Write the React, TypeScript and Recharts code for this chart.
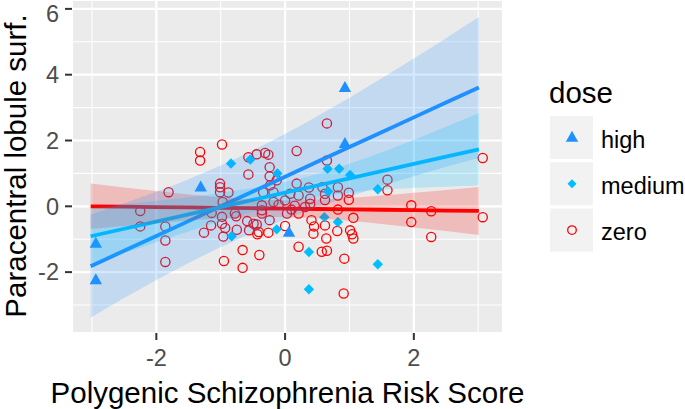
import React from 'react';
import { ComposedChart, Scatter, Line, Area, XAxis, YAxis, CartesianGrid, ReferenceLine } from 'recharts';

// ---- observed points ----
const zeroX = [-2.25, -2.25, -1.81, -1.86, -1.86, -1.86, -1.32, -1.32, -0.98, -1.01, -1.01, -1.01, -0.88, -0.57, -0.44, -0.31, -0.26, -0.57, -0.24, -0.24, -0.23, -0.34, -0.18, -0.13, 0.0, -0.18, -0.36, -0.97, -0.78, -0.36, -1.14, -0.98, -1.15, -0.76, -0.59, -0.36, -0.24, -0.44, -0.98, -0.93, -0.75, -1.26, -0.96, -0.56, -0.43, -0.26, -0.66, -0.40, -0.95, -0.66, 0.0, 0.18, 0.65, 0.65, 0.18, 0.37, 0.58, 0.82, 0.99, 0.99, 0.82, 0.62, 0.39, 0.21, 0.08, 1.59, 1.59, 0.82, 1.06, 0.31, 0.21, 0.21, 0.57, 0.65, 0.92, 0.91, 0.64, 0.81, 1.01, 1.06, 1.04, 0.44, 0.45, 0.62, 0.41, 0.39, 0.03, -0.41, -0.49, 1.96, 1.96, 2.27, 2.27, 3.07, 3.07, 0.62, 0.1, -0.1, 0.15];
const zeroY = [-0.14, -0.61, 0.43, -0.61, -1.04, -1.69, 1.65, 1.39, 1.88, 0.69, 0.58, 0.43, 0.42, 1.49, 1.58, 1.62, 1.57, 0.97, 1.19, 0.91, 0.64, 0.43, 0.43, 0.79, 0.18, 0.13, 0.03, 0.13, -0.22, -0.12, -0.2, -0.32, -0.58, -0.3, -0.45, -0.22, -0.42, -0.55, -0.53, -0.66, -0.71, -0.8, -0.92, -0.73, -0.85, -0.8, -1.33, -1.48, -1.66, -1.87, -0.6, 1.68, 2.52, 1.39, 0.69, 0.57, 0.58, 0.58, 0.41, 0.2, 0.33, 0.19, 0.23, 0.33, 0.38, 0.81, 0.49, -0.1, -0.35, -0.02, -0.22, -1.23, -1.38, -1.35, -1.59, -2.65, -0.98, -0.75, -0.73, -0.98, -0.85, -0.83, -0.61, -0.58, -0.42, 0.08, -0.22, -0.78, -0.53, 0.03, -0.48, -0.15, -0.93, 1.47, -0.33, 0.38, -0.1, 0.05, 0.02];
const mediumX = [-0.84, -0.54, 0.66, 0.84, 1.01, 1.44, 0.61, 0.82, 0.37, 1.44, 0.37, -0.83, -0.13, 0.67, -0.12];
const mediumY = [1.3, 1.42, 1.14, 1.14, 0.95, 0.52, -0.33, -0.48, -1.39, -1.76, -2.52, -0.91, -0.7, 0.45, 1.0];
const highX = [-2.94, -2.94, -1.31, 0.93, 0.93, 0.06];
const highY = [-1.13, -2.24, 0.58, 3.6, 1.9, -0.8];

// ---- fitted lines and confidence bands, read at these x positions ----
const fitX = [-3.02, -2.5, -2, -1.5, -1, -0.5, 0, 0.5, 1, 1.5, 2, 2.5, 3.01];
const highFit = [-1.82, -1.351, -0.9, -0.45, 0.0, 0.451, 0.901, 1.352, 1.802, 2.253, 2.703, 3.154, 3.613];
const highLo = [-3.39, -2.79, -2.24, -1.72, -1.24, -0.8, -0.4, -0.03, 0.3, 0.62, 0.91, 1.2, 1.47];
const highHi = [-0.25, 0.09, 0.44, 0.82, 1.24, 1.7, 2.2, 2.74, 3.3, 3.89, 4.49, 5.11, 5.75];
const mediumFit = [-0.91, -0.682, -0.463, -0.243, -0.024, 0.195, 0.413, 0.632, 0.851, 1.07, 1.289, 1.508, 1.73];
const mediumLo = [-1.76, -1.42, -1.09, -0.763, -0.454, -0.165, 0.083, 0.282, 0.411, 0.5, 0.559, 0.598, 0.63];
const mediumHi = [-0.06, 0.058, 0.167, 0.277, 0.406, 0.555, 0.743, 0.982, 1.291, 1.64, 2.019, 2.418, 2.83];
const zeroFit = [0.0, -0.012, -0.024, -0.035, -0.047, -0.058, -0.07, -0.082, -0.093, -0.105, -0.117, -0.128, -0.14];
const zeroLo = [-0.69, -0.597, -0.511, -0.432, -0.366, -0.323, -0.321, -0.365, -0.441, -0.537, -0.643, -0.753, -0.869];
const zeroHi = [0.69, 0.573, 0.463, 0.362, 0.272, 0.207, 0.181, 0.201, 0.255, 0.327, 0.409, 0.497, 0.589];

const xTicks = [-2, 0, 2];
const yTicks = [-2, 0, 2, 4, 6];
const xMinor = [-3, -1, 1, 3];
const yMinor = [-3, -1, 1, 3, 5];
const legendLabels = ['high', 'medium', 'zero'];

const HIGH = '#1E90FF';
const MED = '#00BFFF';
const ZERO = '#FF0000';
const FONT = '"Liberation Sans", Arial, sans-serif';

const fitData = fitX.map((x, i) => ({
  x,
  highFit: highFit[i],
  highBand: [highLo[i], highHi[i]],
  mediumFit: mediumFit[i],
  mediumBand: [mediumLo[i], mediumHi[i]],
  zeroFit: zeroFit[i],
  zeroBand: [zeroLo[i], zeroHi[i]],
}));
const zeroPts = zeroX.map((x, i) => ({ x, y: zeroY[i] }));
const mediumPts = mediumX.map((x, i) => ({ x, y: mediumY[i] }));
const highPts = highX.map((x, i) => ({ x, y: highY[i] }));

const CircleShape = (p: any) => (
  <circle cx={p.cx} cy={p.cy} r={4.6} fill="none" stroke={ZERO} strokeWidth={1.3} />
);
const DiamondShape = (p: any) => (
  <polygon points={`${p.cx},${p.cy - 5.2} ${p.cx + 5.2},${p.cy} ${p.cx},${p.cy + 5.2} ${p.cx - 5.2},${p.cy}`} fill={MED} />
);
const TriangleShape = (p: any) => (
  <polygon points={`${p.cx},${p.cy - 6.8} ${p.cx + 6.2},${p.cy + 4.2} ${p.cx - 6.2},${p.cy + 4.2}`} fill={HIGH} />
);

export default function App() {
  const tickStyle = { fill: '#4D4D4D', fontSize: 23.5, fontFamily: FONT };
  return (
    <div style={{ position: 'absolute', left: 0, top: 0, width: 685, height: 409, background: '#fff' }}>
      <ComposedChart
        width={685}
        height={409}
        data={fitData}
        margin={{ top: 0, right: 182, bottom: 0, left: 0 }}
      >
        <CartesianGrid fill="#EBEBEB" stroke="#FFFFFF" strokeWidth={2.2} />
        {xMinor.map((v) => (
          <ReferenceLine key={'xm' + v} x={v} stroke="#FFFFFF" strokeWidth={1.1} zIndex={-50} />
        ))}
        {yMinor.map((v) => (
          <ReferenceLine key={'ym' + v} y={v} stroke="#FFFFFF" strokeWidth={1.1} zIndex={-50} />
        ))}
        <XAxis
          type="number"
          dataKey="x"
          domain={[-3.31, 3.385]}
          ticks={xTicks}
          allowDataOverflow
          axisLine={false}
          tickLine={{ stroke: '#333333', strokeWidth: 2 }}
          tickSize={7}
          tickMargin={9}
          height={76}
          tick={tickStyle}
        />
        <YAxis
          type="number"
          domain={[-3.85, 6.27]}
          ticks={yTicks}
          allowDataOverflow
          axisLine={false}
          tickLine={{ stroke: '#333333', strokeWidth: 2 }}
          tickSize={7}
          tickMargin={6}
          width={72}
          tick={tickStyle}
        />
        <Scatter data={zeroPts} dataKey="y" shape={CircleShape} isAnimationActive={false} zIndex={10} />
        <Scatter data={mediumPts} dataKey="y" shape={DiamondShape} isAnimationActive={false} zIndex={10} />
        <Scatter data={highPts} dataKey="y" shape={TriangleShape} isAnimationActive={false} zIndex={10} />
        <Line dataKey="zeroFit" stroke={ZERO} strokeWidth={3.8} dot={false} type="linear" isAnimationActive={false} zIndex={20} />
        <Line dataKey="highFit" stroke={HIGH} strokeWidth={3.8} dot={false} type="linear" isAnimationActive={false} zIndex={20} />
        <Line dataKey="mediumFit" stroke={MED} strokeWidth={3.8} dot={false} type="linear" isAnimationActive={false} zIndex={20} />
        <Area dataKey="zeroBand" type="monotone" fill={ZERO} fillOpacity={0.2} stroke="none" isAnimationActive={false} zIndex={30} />
        <Area dataKey="highBand" type="monotone" fill={HIGH} fillOpacity={0.2} stroke="none" isAnimationActive={false} zIndex={30} />
        <Area dataKey="mediumBand" type="monotone" fill={MED} fillOpacity={0.2} stroke="none" isAnimationActive={false} zIndex={30} />
      </ComposedChart>
      <svg width={685} height={409} style={{ position: 'absolute', left: 0, top: 0, pointerEvents: 'none' }}>
        <text x={287.5} y={403} textAnchor="middle" fontSize={29.5} fontFamily={FONT} fill="#000">
          Polygenic Schizophrenia Risk Score
        </text>
        <text x={26} y={166} textAnchor="middle" fontSize={29.5} fontFamily={FONT} fill="#000" transform="rotate(-90 26 166)">
          Paracentral lobule surf.
        </text>
        <text x={549} y={103} fontSize={29.5} fontFamily={FONT} fill="#000">dose</text>
        {legendLabels.map((lab, i) => {
          const top = 116 + i * 46.3;
          const cx = 572;
          const cy = top + 21.5;
          return (
            <g key={lab}>
              <rect x={550} y={top} width={43} height={43} fill="#F2F2F2" />
              {i === 0 && (
                <polygon points={`${cx},${cy - 6.8} ${cx + 6.2},${cy + 4.2} ${cx - 6.2},${cy + 4.2}`} fill={HIGH} />
              )}
              {i === 1 && (
                <polygon points={`${cx},${cy - 4.5} ${cx + 4.5},${cy} ${cx},${cy + 4.5} ${cx - 4.5},${cy}`} fill={MED} />
              )}
              {i === 2 && <circle cx={cx} cy={cy} r={4.3} fill="none" stroke={ZERO} strokeWidth={1.3} />}
              <text x={601} y={top + 31.5} fontSize={23.5} fontFamily={FONT} fill="#000">
                {lab}
              </text>
            </g>
          );
        })}
      </svg>
    </div>
  );
}
